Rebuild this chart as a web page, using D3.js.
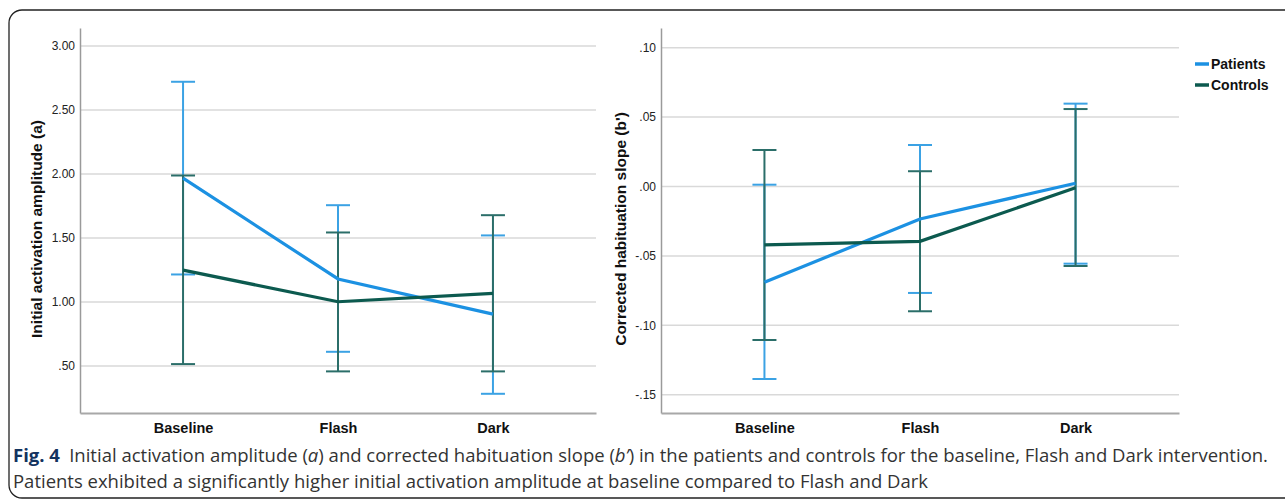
<!DOCTYPE html>
<html>
<head>
<meta charset="utf-8">
<script src="https://cdn.jsdelivr.net/npm/d3@7"></script>
<style>
body { margin:0; background:#fff; }
svg text { font-family: "Liberation Sans", Arial, sans-serif; }
</style>
</head>
<body>
<script>
// data
var categories = ["Baseline","Flash","Dark"];
var groups = ["Patients","Controls"];

var ampMean = { Patients:[1.967,1.18,0.905], Controls:[1.249,1.002,1.067] };
var ampLow  = { Patients:[1.215,0.611,0.283], Controls:[0.515,0.458,0.458] };
var ampHigh = { Patients:[2.72,1.756,1.52],   Controls:[1.988,1.543,1.678] };

var slopeMean = { Patients:[-0.069,-0.0234,0.0023], Controls:[-0.0421,-0.0395,-0.0009] };
var slopeLow  = { Patients:[-0.1387,-0.0767,-0.0556], Controls:[-0.1106,-0.0899,-0.0573] };
var slopeHigh = { Patients:[0.0013,0.0299,0.0597],  Controls:[0.0263,0.011,0.0558] };

var ampTicks = [0.5,1,1.5,2,2.5,3];
var ampTickLabels = [".50","1.00","1.50","2.00","2.50","3.00"];
var slopeTicks = [-0.15,-0.10,-0.05,0,0.05,0.10];
var slopeTickLabels = ["-.15","-.10","-.05",".00",".05",".10"];

var lineColor = { Patients:"#1c91e2", Controls:"#0c5a4f" };
var barColor  = { Patients:"#3ba2e4", Controls:"#2b6e69" };

var width = 1285, height = 500;

var svg = d3.select("body")
.append("svg")
.attr("width",width)
.attr("height",height);

// frame
svg.append("rect")
.attr("x",9).attr("y",10)
.attr("width",1300).attr("height",488)
.attr("rx",13)
.attr("fill","none")
.attr("stroke","#222")
.attr("stroke-width",1.3);

function panel(opt){
	var x = d3.scalePoint()
	.domain(categories)
	.range([opt.left,opt.right])
	.padding(0.665);

	var y = d3.scaleLinear()
	.domain(opt.domain)
	.range([413,28]);

	var g = svg.append("g");

	// gridlines
	g.selectAll(".grid")
	.data(opt.ticks)
	.enter()
	.append("line")
	.attr("x1",opt.left).attr("x2",opt.right)
	.attr("y1",function(d){ return y(d); })
	.attr("y2",function(d){ return y(d); })
	.attr("stroke","#d9d9d9")
	.attr("stroke-width",1.5);

	var yAxis = d3.axisLeft(y)
	.tickValues(opt.ticks)
	.tickSize(0)
	.tickPadding(5)
	.tickFormat(function(d,i){ return opt.labels[i]; });

	var ya = g.append("g")
	.attr("transform","translate(" + opt.left + ",0)")
	.call(yAxis);
	ya.select(".domain").attr("stroke","#9a9a9a").attr("stroke-width",1.5);
	ya.selectAll("text").attr("font-size","12px").attr("fill","#222");

	var xAxis = d3.axisBottom(x).tickSize(0).tickPadding(10);
	var xa = g.append("g")
	.attr("transform","translate(0,413)")
	.call(xAxis);
	xa.select(".domain").attr("stroke","#a8a8a8").attr("stroke-width",2);
	xa.selectAll("text").attr("font-size","14.5px").attr("font-weight","bold").attr("fill","#111");

	// axis title
	g.append("text")
	.attr("transform","translate(" + opt.titleX + ",229) rotate(-90)")
	.attr("text-anchor","middle")
	.attr("font-size","15.5px")
	.attr("font-weight","bold")
	.attr("fill","#111")
	.text(opt.title);

	var line = d3.line()
	.x(function(d,i){ return x(categories[i]); })
	.y(function(d){ return y(d); });

	groups.forEach(function(grp){
		var eb = g.append("g");
		categories.forEach(function(c,i){
			var cx = x(c);
			var lo = y(opt.low[grp][i]), hi = y(opt.high[grp][i]);
			eb.append("line").attr("x1",cx).attr("x2",cx).attr("y1",lo).attr("y2",hi)
			.attr("stroke",barColor[grp]).attr("stroke-width",2);
			[lo,hi].forEach(function(yy){
				eb.append("line").attr("x1",cx-12).attr("x2",cx+12).attr("y1",yy).attr("y2",yy)
				.attr("stroke",barColor[grp]).attr("stroke-width",2);
			});
		});
	});
	groups.forEach(function(grp){
		g.append("path")
		.attr("d",line(opt.mean[grp]))
		.attr("fill","none")
		.attr("stroke",lineColor[grp])
		.attr("stroke-width",3.2);
	});
}

panel({
	left:80, right:596,
	domain:[0.133,3.14],
	ticks:ampTicks, labels:ampTickLabels,
	mean:ampMean, low:ampLow, high:ampHigh,
	title:"Initial activation amplitude (a)", titleX:42
});

panel({
	left:661, right:1179,
	domain:[-0.1632,0.1142],
	ticks:slopeTicks, labels:slopeTickLabels,
	mean:slopeMean, low:slopeLow, high:slopeHigh,
	title:"Corrected habituation slope (b')", titleX:626
});

// legend
var legend = svg.append("g");
groups.forEach(function(grp,i){
	var yy = 64 + i*21;
	legend.append("line")
	.attr("x1",1195).attr("x2",1209)
	.attr("y1",yy).attr("y2",yy)
	.attr("stroke",lineColor[grp])
	.attr("stroke-width",3.5);
	legend.append("text")
	.attr("x",1211).attr("y",yy+5)
	.attr("font-size","14px")
	.attr("font-weight","bold")
	.attr("fill","#111")
	.text(grp);
});

// caption
var cap1 = svg.append("text")
.attr("x",13).attr("y",462)
.attr("font-size","17.5px")
.attr("fill","#333")
.style("font-family","'Open Sans', sans-serif")
.attr("textLength",1255)
.attr("lengthAdjust","spacingAndGlyphs");
cap1.append("tspan").attr("font-weight","bold").attr("fill","#13335f").text("Fig. 4");
cap1.append("tspan").text("\u2002Initial activation amplitude (");
cap1.append("tspan").attr("font-style","italic").text("a");
cap1.append("tspan").text(") and corrected habituation slope (");
cap1.append("tspan").attr("font-style","italic").text("b\u2019");
cap1.append("tspan").text(") in the patients and controls for the baseline, Flash and Dark intervention.");

svg.append("text")
.attr("x",13).attr("y",488)
.attr("font-size","17.5px")
.attr("fill","#333")
.style("font-family","'Open Sans', sans-serif")
.attr("textLength",915)
.attr("lengthAdjust","spacingAndGlyphs")
.text("Patients exhibited a significantly higher initial activation amplitude at baseline compared to Flash and Dark");
</script>
</body>
</html>
